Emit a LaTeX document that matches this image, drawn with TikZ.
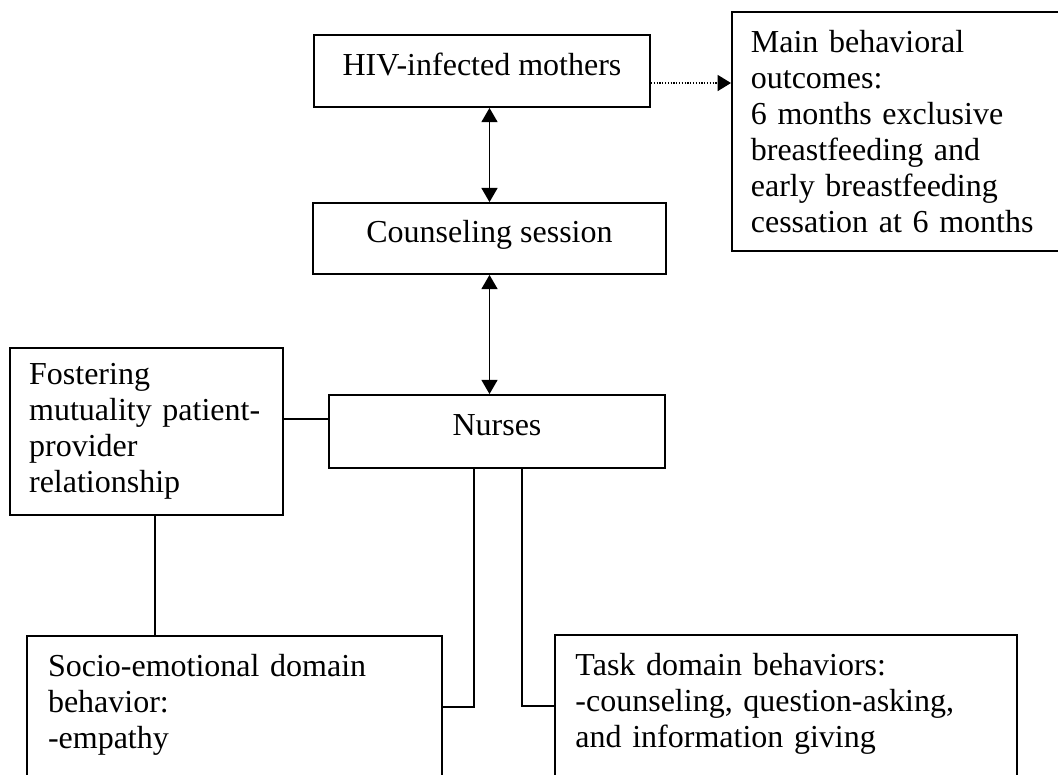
\documentclass[tikz,border=0pt]{standalone}
\usepackage{fontspec}
\setmainfont{Liberation Serif}
\usetikzlibrary{arrows.meta,positioning,calc}

\begin{document}
\begin{tikzpicture}[x=0.375pt, y=-0.375pt,
          font=\fontsize{12}{13.5}\selectfont,
          box/.style={draw, line width=0.7pt, inner sep=0pt, text height=8.5pt, text depth=5.5pt, align=center},
          txtbox/.style={draw, line width=0.7pt, align=left, anchor=north west, inner xsep=7.1pt},
          link/.style={line width=0.5pt},
          biarrow/.style={line width=0.5pt, {Triangle[length=5.3pt,width=6pt]}-{Triangle[length=5.3pt,width=6pt]}},
          dotarrow/.style={line width=0.5pt, dash pattern=on 0.45pt off 0.6pt, -{Triangle[length=5pt,width=6pt]}}
        ]
          \useasboundingbox (0,0) rectangle (1058,774);

          % Hauptkette
          \node[box, minimum width=126pt, minimum height=27pt] (hiv) at (482,71) {HIV-infected mothers};
          \node[box, minimum width=132.4pt, minimum height=26.6pt] (couns) at (489.5,238.5) {Counseling session};
          \node[box, minimum width=126pt, minimum height=27.4pt] (nurse) at (497,431.5) {Nurses};

          % Ergebnis
          \node[txtbox, text width=120pt, minimum height=89.6pt] (outc) at (731,11)
            {Main behavioral\\outcomes:\\6 months exclusive\\breastfeeding and\\early breastfeeding\\cessation at 6 months};

          % Beziehung
          \node[txtbox, text width=88pt, inner xsep=7.2pt, minimum height=62.6pt] (fost) at (9,347)
            {Fostering\\mutuality patient-\\provider\\relationship};

          % Verhalten
          \node[txtbox, text width=140pt, inner xsep=7.9pt, inner ysep=6.75pt, text depth=50pt] (socio) at (26,635)
            {Socio-emotional domain\\behavior:\\-empathy};
          \node[txtbox, text width=158pt, inner xsep=7.7pt, inner ysep=6.75pt, text depth=50pt] (task) at (554,634)
            {Task domain behaviors:\\-counseling, question-asking,\\and information giving};

          % Pfeile
          \draw[biarrow] (couns.north) -- (couns.north |- hiv.south);
          \draw[biarrow] (couns.south) -- (couns.south |- nurse.north);
          \draw[dotarrow] ([yshift=-4.5pt]hiv.east) -- ([yshift=-4.5pt]hiv.east -| outc.west);

          % Linien
          \draw[link] ([yshift=4.7pt]nurse.west) -- ([yshift=4.7pt]nurse.west -| fost.east);
          \draw[link] ([xshift=3.2pt]fost.south) -- ([xshift=3.2pt]fost.south |- socio.north);
          \draw[link] ([xshift=-8.6pt]nurse.south) |- ([yshift=-27pt]socio.north -| socio.east);
          \draw[link] ([xshift=9.4pt]nurse.south) |- ([yshift=-27pt]task.north -| task.west);
        \end{tikzpicture}
\end{document}
